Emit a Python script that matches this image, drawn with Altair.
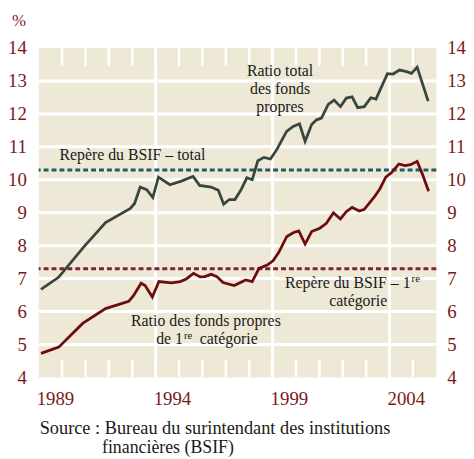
import altair as alt
import pandas as pd

# ---- data ----
total_years = [1989.1, 1989.85, 1990.94, 1991.86, 1992.92, 1993.1, 1993.34, 1993.62, 1993.88,
               1994.12, 1994.61, 1995.1, 1995.6, 1995.88, 1996.37, 1996.68, 1996.91, 1997.15,
               1997.39, 1997.64, 1997.9, 1998.13, 1998.37, 1998.63, 1998.91, 1999.19, 1999.6,
               1999.88, 2000.15, 2000.39, 2000.67, 2000.88, 2001.09, 2001.38, 2001.63, 2001.9,
               2002.15, 2002.4, 2002.64, 2002.92, 2003.2, 2003.42, 2003.91, 2004.15, 2004.43,
               2004.69, 2004.94, 2005.18, 2005.65]
total_values = [6.67, 7.04, 7.97, 8.70, 9.13, 9.28, 9.78, 9.70, 9.46,
                10.08, 9.85, 9.96, 10.10, 9.83, 9.78, 9.68, 9.26, 9.40,
                9.40, 9.68, 10.06, 10.00, 10.58, 10.68, 10.63, 10.93, 11.47,
                11.62, 11.70, 11.17, 11.68, 11.82, 11.87, 12.29, 12.42, 12.22,
                12.48, 12.52, 12.19, 12.22, 12.49, 12.45, 13.22, 13.21, 13.33,
                13.29, 13.23, 13.42, 12.39]

tier1_years = [1989.1, 1989.86, 1990.88, 1991.86, 1992.85, 1993.06, 1993.38, 1993.55, 1993.86,
               1994.14, 1994.68, 1995.05, 1995.31, 1995.62, 1995.9, 1996.1, 1996.37, 1996.62,
               1996.88, 1997.36, 1997.85, 1998.13, 1998.42, 1998.77, 1999.02, 1999.26, 1999.61,
               1999.9, 2000.12, 2000.39, 2000.67, 2001.02, 2001.3, 2001.6, 2001.9, 2002.15,
               2002.4, 2002.71, 2002.92, 2003.35, 2003.59, 2003.84, 2004.1, 2004.4, 2004.66,
               2004.9, 2005.18, 2005.4, 2005.67]
tier1_values = [4.73, 4.92, 5.64, 6.09, 6.31, 6.49, 6.86, 6.79, 6.44,
                6.91, 6.87, 6.91, 6.99, 7.16, 7.05, 7.06, 7.13, 7.06,
                6.88, 6.79, 6.96, 6.91, 7.31, 7.41, 7.54, 7.79, 8.28,
                8.40, 8.45, 8.05, 8.43, 8.53, 8.68, 9.00, 8.81, 9.03,
                9.16, 9.05, 9.10, 9.48, 9.73, 10.08, 10.23, 10.48, 10.43,
                10.46, 10.56, 10.18, 9.65]

bsif_total = [10.3]
bsif_tier1 = [7.3]

y_ticks = [4, 5, 6, 7, 8, 9, 10, 11, 12, 13, 14]
grid_levels = [5, 6, 7, 8, 9, 10, 11, 12, 13]
major_years = [1994, 1999, 2004]
minor_years = list(range(1990, 2006))
x_label_years = [1989, 1994, 1999, 2004]
unit_label = "%"

center_texts = ["Ratio total", "des fonds", "propres", "Ratio des fonds propres", "catégorie"]
center_x = [1999.32, 1999.32, 1999.32, 1996.15, 2002.66]
center_y = [13.16, 12.61, 12.07, 5.57, 6.17]

left_texts = ["Repère du BSIF – total", "catégorie"]
left_x = [1989.89, 1995.89]
left_y = [10.60, 5.00]

right_texts = ["de 1", "Repère du BSIF – 1"]
right_x = [1995.17, 2004.90]
right_y = [5.00, 6.72]

sup_texts = ["re", "re"]
sup_x = [1995.21, 2004.94]
sup_y = [5.00, 6.72]

source_lines = ["Source : Bureau du surintendant des institutions", "financières (BSIF)"]

# ---- styling ----
FONT = "Liberation Serif"
RED = "#7A1919"
INK = "#1A1A1A"
BG = "#EEE9D7"
W, H = 402, 333

X = alt.Scale(domain=[1989, 2006], nice=False, zero=False)
Y = alt.Scale(domain=[4, 14], nice=False, zero=False)

hgrid = alt.Chart(pd.DataFrame({"v": grid_levels})).mark_rule(color="white", strokeWidth=3).encode(
    y=alt.Y("v:Q", scale=Y, axis=None))
vgrid = alt.Chart(pd.DataFrame({"yr": major_years})).mark_rule(color="white", strokeWidth=3).encode(
    x=alt.X("yr:Q", scale=X, axis=None))
top_ticks = alt.Chart(pd.DataFrame({"yr": minor_years})).mark_rule(color="white", strokeWidth=2.5).encode(
    x=alt.X("yr:Q", scale=X, axis=None), y=alt.value(0), y2=alt.value(18))
bot_ticks = alt.Chart(pd.DataFrame({"yr": minor_years})).mark_rule(color="white", strokeWidth=2.5).encode(
    x=alt.X("yr:Q", scale=X, axis=None), y=alt.value(H - 18), y2=alt.value(H))

ref_total = alt.Chart(pd.DataFrame({"v": bsif_total})).mark_rule(
    color="#1E5B63", strokeWidth=3, strokeDash=[5, 3]).encode(y=alt.Y("v:Q", scale=Y, axis=None))
ref_tier1 = alt.Chart(pd.DataFrame({"v": bsif_tier1})).mark_rule(
    color="#7E2430", strokeWidth=3, strokeDash=[5, 3]).encode(y=alt.Y("v:Q", scale=Y, axis=None))

line_total = alt.Chart(pd.DataFrame({"yr": total_years, "v": total_values})).mark_line(
    color="#37463F", strokeWidth=2.8, strokeJoin="miter").encode(
    x=alt.X("yr:Q", scale=X, axis=None), y=alt.Y("v:Q", scale=Y, axis=None), order="yr:Q")
line_tier1 = alt.Chart(pd.DataFrame({"yr": tier1_years, "v": tier1_values})).mark_line(
    color="#6C0D0D", strokeWidth=2.8, strokeJoin="miter").encode(
    x=alt.X("yr:Q", scale=X, axis=None), y=alt.Y("v:Q", scale=Y, axis=None), order="yr:Q")

# axis labels drawn as text
ylab_left = alt.Chart(pd.DataFrame({"v": y_ticks})).mark_text(
    align="right", baseline="alphabetic", font=FONT, fontSize=19, color=RED, dy=6.5).encode(
    x=alt.value(-12), y=alt.Y("v:Q", scale=Y, axis=None), text=alt.Text("v:Q", format="d"))
ylab_right = alt.Chart(pd.DataFrame({"v": y_ticks})).mark_text(
    align="left", baseline="alphabetic", font=FONT, fontSize=19, color=RED, dy=6.5).encode(
    x=alt.value(W + 11), y=alt.Y("v:Q", scale=Y, axis=None), text=alt.Text("v:Q", format="d"))
xlab = alt.Chart(pd.DataFrame({"yr": x_label_years})).mark_text(
    align="center", baseline="alphabetic", font=FONT, fontSize=19, color=RED, dx=17).encode(
    x=alt.X("yr:Q", scale=X, axis=None), y=alt.value(H + 28), text=alt.Text("yr:Q", format="d"))
unit = alt.Chart(pd.DataFrame({"t": [unit_label]})).mark_text(
    align="center", baseline="alphabetic", font=FONT, fontSize=17, color=RED).encode(
    x=alt.value(-20), y=alt.value(-22), text="t:N")


def text_layer(texts, xs, ys, align, size=16, dy=0):
    df = pd.DataFrame({"t": texts, "x": xs, "y": ys})
    return alt.Chart(df).mark_text(align=align, baseline="alphabetic", font=FONT, fontSize=size,
                                   color=INK, dy=dy).encode(
        x=alt.X("x:Q", scale=X, axis=None), y=alt.Y("y:Q", scale=Y, axis=None), text="t:N")


t_center = text_layer(center_texts, center_x, center_y, "center")
t_left = text_layer(left_texts, left_x, left_y, "left")
t_right = text_layer(right_texts, right_x, right_y, "right")
t_sup = text_layer(sup_texts, sup_x, sup_y, "left", size=11, dy=-6)

src1 = alt.Chart(pd.DataFrame({"t": [source_lines[0]]})).mark_text(
    align="left", baseline="alphabetic", font=FONT, fontSize=18.5, color=INK).encode(
    x=alt.value(1), y=alt.value(390), text="t:N")
src2 = alt.Chart(pd.DataFrame({"t": [source_lines[1]]})).mark_text(
    align="left", baseline="alphabetic", font=FONT, fontSize=18, color=INK).encode(
    x=alt.value(64), y=alt.value(409), text="t:N")

chart = alt.layer(
    hgrid, vgrid, top_ticks, bot_ticks, ref_total, ref_tier1,
    line_total, line_tier1, ylab_left, ylab_right, xlab, unit,
    t_center, t_left, t_right, t_sup, src1, src2
).properties(
    width=W, height=H,
    autosize=alt.AutoSizeParams(type="none"),
    padding={"left": 31, "top": 38, "right": 30, "bottom": 80},
    background="white",
).configure_view(fill=BG, stroke=None)

chart.save("out.html", embed_options={"renderer": "svg", "actions": False})
